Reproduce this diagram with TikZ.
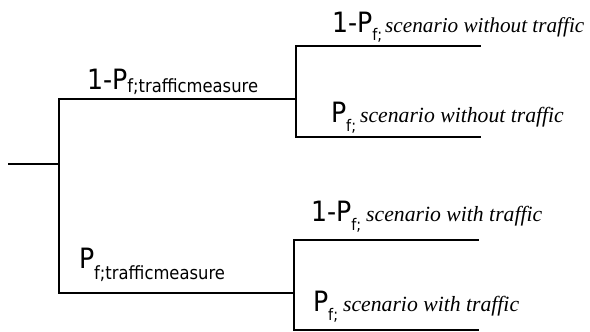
\documentclass[tikz,border=0pt]{standalone}
\usepackage{fontspec}
\usepackage{graphicx}
\newfontfamily\tah[FakeStretch=0.9]{DejaVu Sans}
\newfontfamily\tms{Liberation Serif}
\newcommand\mainf{\tah\fontsize{28}{30}\selectfont}
\newcommand\subf{\tah\fontsize{16}{18}\selectfont}
\newcommand\bigsubf{\tah\fontsize{18.2}{20}\selectfont}
\newcommand\itf{\tms\itshape\fontsize{21.7}{23}\selectfont}
\newcommand\itfb{\tms\itshape\fontsize{21.2}{23}\selectfont}
\tikzset{
  branch/.style={line width=1.8pt, line cap=rect},
  lab/.style={anchor=base west, inner sep=0pt, outer sep=0pt}
}
\begin{document}
\begin{tikzpicture}[x=1pt,y=-1pt]
\useasboundingbox (0,0) rectangle (590,332);
% tree points
\coordinate (root) at (9,164);
\coordinate (s1) at (59,164);
\coordinate (s1t) at (59,99);
\coordinate (s1b) at (59,293);
\coordinate (n2) at (296,99);
\coordinate (n2t) at (296,46);
\coordinate (n2b) at (296,137);
\coordinate (e1) at (480,46);
\coordinate (e2) at (480,137);
\coordinate (n3) at (294,293);
\coordinate (n3t) at (294,240);
\coordinate (n3b) at (294,330);
\coordinate (e3) at (478,240);
\coordinate (e4) at (478,330);
% connectors
\draw[branch] (root) -- (s1);
\draw[branch] (s1t) -- (s1b);
\draw[branch] (s1t) -- (n2);
\draw[branch] (s1b) -- (n3);
\draw[branch] (n2t) -- (n2b);
\draw[branch] (n2t) -- (e1);
\draw[branch] (n2b) -- (e2);
\draw[branch] (n3t) -- (n3b);
\draw[branch] (n3t) -- (e3);
\draw[branch] (n3b) -- (e4);
% labels
\node[lab] (la) at (87,89) {\mainf 1-P\raisebox{-3pt}{\bigsubf f;trafficmeasure}};
\node[lab] (lf) at (79,268) {\mainf P\raisebox{-11pt}{\bigsubf f;trafficmeasure}};
\node[lab] (lb) at (332,32) {\mainf 1-P\raisebox{-9pt}{\subf f;}\hspace{3pt}{\itfb scenario without traffic}};
\node[lab] (lc) at (331,122) {\mainf P\raisebox{-9pt}{\subf f;}\hspace{4pt}{\itf scenario without traffic}};
\node[lab] (ld) at (311,221) {\mainf 1-P\raisebox{-9pt}{\subf f;}\hspace{5pt}{\itf scenario with traffic}};
\node[lab] (le) at (313,311) {\mainf P\raisebox{-9pt}{\subf f;}\hspace{5pt}{\itf scenario with traffic}};
\end{tikzpicture}
\end{document}
